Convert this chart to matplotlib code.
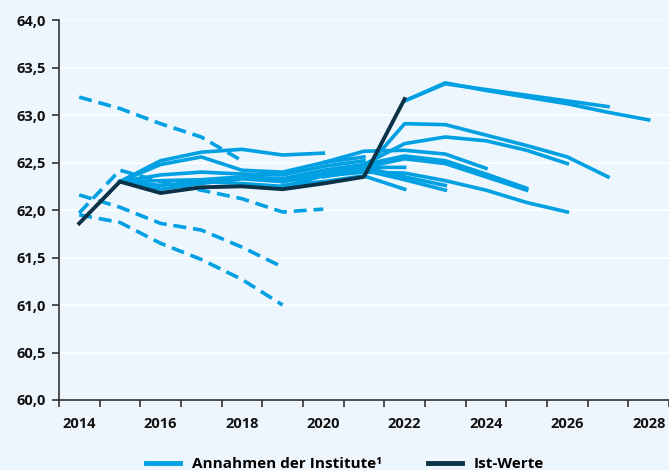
import matplotlib
matplotlib.use("Agg")
import matplotlib.pyplot as plt
from matplotlib.lines import Line2D

plt.rcParams['font.family'] = ['Open Sans', 'DejaVu Sans']

years = list(range(2014, 2029))
year_labels = ["2014", "", "2016", "", "2018", "", "2020", "", "2022", "", "2024", "", "2026", "", "2028"]
y_ticks = [60.0, 60.5, 61.0, 61.5, 62.0, 62.5, 63.0, 63.5, 64.0]

# Ist-Werte 2014-2022
ist_werte = [61.86, 62.30, 62.18, 62.24, 62.25, 62.22, 62.28, 62.35, 63.17]

# Annahmen der Institute (start year, values); dashed = older vintages
dash_1 = (2014, [63.19, 63.07, 62.91, 62.77, 62.52])
dash_2 = (2014, [62.16, 62.03, 61.86, 61.79, 61.61, 61.40])
dash_3 = (2014, [61.95, 61.87, 61.65, 61.48, 61.27, 61.00])
dash_4 = (2014, [61.97, 62.42, 62.30, 62.21, 62.12, 61.98, 62.01])

solid_1 = (2015, [62.30, 62.52, 62.61, 62.64, 62.58, 62.60])
solid_2 = (2015, [62.30, 62.48, 62.56, 62.42, 62.40, 62.50, 62.56])
solid_3 = (2015, [62.30, 62.37, 62.40, 62.38, 62.37, 62.46, 62.52])
solid_4 = (2015, [62.30, 62.31, 62.32, 62.35, 62.33, 62.42, 62.48])
solid_5 = (2015, [62.30, 62.22, 62.28, 62.33, 62.30, 62.38, 62.45])
solid_6 = (2015, [62.30, 62.26, 62.30, 62.28, 62.25, 62.36, 62.40])
solid_7 = (2019, [62.26, 62.30, 62.36, 62.22])
solid_8 = (2019, [62.30, 62.38, 62.45, 62.45])
solid_9 = (2020, [62.35, 62.42, 62.32, 62.21])
solid_10 = (2020, [62.40, 62.45, 62.35, 62.26])
solid_11 = (2020, [62.50, 62.62, 62.63, 62.59, 62.44])
solid_12 = (2021, [62.45, 62.54, 62.49, 62.35, 62.21])
solid_13 = (2021, [62.48, 62.57, 62.52, 62.38, 62.23])
solid_14 = (2021, [62.40, 62.39, 62.31, 62.21, 62.08, 61.98])
solid_15 = (2021, [62.48, 62.70, 62.77, 62.73, 62.63, 62.49])
solid_16 = (2021, [62.42, 62.91, 62.90, 62.79, 62.68, 62.56, 62.35])
solid_17 = (2022, [63.15, 63.33, 63.27, 63.21, 63.15, 63.09])
solid_18 = (2022, [63.15, 63.34, 63.26, 63.19, 63.12, 63.03, 62.95])

dashed_series = [dash_1, dash_2, dash_3, dash_4]
solid_series = [solid_1, solid_2, solid_3, solid_4, solid_5, solid_6, solid_7, solid_8, solid_9,
                solid_10, solid_11, solid_12, solid_13, solid_14, solid_15, solid_16, solid_17, solid_18]

light = "#00A0E3"
dark = "#0B3247"
bg = "#EEF6FD"

fig = plt.figure(figsize=(6.69, 4.70), dpi=100, facecolor=bg)
ax = fig.add_axes([0.088, 0.149, 0.912, 0.808])
ax.set_facecolor(bg)

def xpos(start, n):
    return [start - 2014 + i for i in range(n)]

for start, vals in dashed_series:
    ax.plot(xpos(start, len(vals)), vals, color=light, lw=2.6, linestyle=(0, (3.6, 1.9)), solid_capstyle="butt")
for start, vals in solid_series:
    ax.plot(xpos(start, len(vals)), vals, color=light, lw=2.6, solid_joinstyle="round")
ax.plot(xpos(2014, len(ist_werte)), ist_werte, color=dark, lw=2.8, zorder=5)

ax.set_xlim(-0.5, 14.5)
ax.set_ylim(60.0, 64.0)
ax.set_yticks(y_ticks)
ax.set_yticklabels([f"{v:.1f}".replace(".", ",") for v in y_ticks])
ax.set_xticks(range(len(years)))
ax.set_xticklabels(year_labels)
ax.set_xticks([i - 0.5 for i in range(len(years) + 1)], minor=True)
ax.tick_params(axis="x", which="major", length=0, pad=12)
ax.tick_params(axis="x", which="minor", length=5, width=1.2, color="#333333")
ax.tick_params(axis="y", length=5, width=1.2, color="#333333", pad=4)
for lab in ax.get_xticklabels() + ax.get_yticklabels():
    lab.set_fontweight("bold")
    lab.set_fontsize(10.5)
    lab.set_color("#111111")

ax.grid(axis="y", color="white", lw=1.2)
ax.set_axisbelow(True)
for s in ["top", "right"]:
    ax.spines[s].set_visible(False)
for s in ["left", "bottom"]:
    ax.spines[s].set_color("#333333")
    ax.spines[s].set_linewidth(1.2)

handles = [Line2D([], [], color=light, lw=3.5), Line2D([], [], color=dark, lw=3.5)]
fig.legend(handles, ["Annahmen der Institute\u00b9", "Ist-Werte"], loc="center",
           bbox_to_anchor=(0.516, 0.012), ncol=2, frameon=False,
           prop={"weight": "bold", "size": 11}, handlelength=2.2, columnspacing=3.0)

fig.savefig("out.png", dpi=100, facecolor=bg)
